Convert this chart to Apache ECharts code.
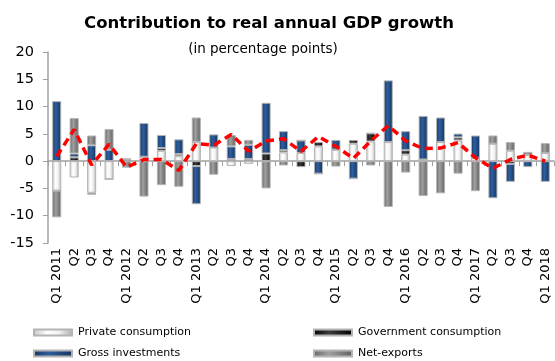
<!DOCTYPE html>
<html>
<head>
<meta charset="utf-8">
<script src="https://cdn.jsdelivr.net/npm/echarts@6/dist/echarts.min.js"></script>
<style>html,body{margin:0;padding:0;background:#fff}#c{width:555px;height:361px}</style>
</head>
<body>
<div id="c"></div>
<script>
var categories = ['Q1 2011','Q2','Q3','Q4','Q1 2012','Q2','Q3','Q4','Q1 2013','Q2','Q3','Q4','Q1 2014','Q2','Q3','Q4','Q1 2015','Q2','Q3','Q4','Q1 2016','Q2','Q3','Q4','Q1 2017','Q2','Q3','Q4','Q1 2018'];
var privateConsumption = [-5.4,-3.0,-5.8,-3.3,0,0.8,1.9,0.9,3.5,2.5,-0.9,-0.5,0,1.6,1.5,2.7,2.1,3.2,3.6,3.5,1.2,0.3,3.5,3.8,0.6,3.2,1.9,1.1,1.5];
var governmentConsumption = [0,0.7,-0.35,0,0.4,0,0.5,0.4,-0.9,0,0.4,0.4,1.4,0.4,-1.1,0.8,0,0.7,1.5,0,0.8,0,0,0.55,0,0,-0.5,0,0];
var grossInvestments = [11.0,0.7,2.9,2.1,0,6.2,2.4,2.7,-7.0,2.4,2.3,2.6,9.3,3.5,2.3,-2.3,1.8,-3.2,0,11.3,3.5,8.0,4.5,0.7,4.1,-6.8,-3.3,-1.1,-3.8];
var netExports = [-4.9,6.5,1.8,3.8,-1.2,-6.5,-4.4,-4.7,4.5,-2.5,2.1,0.9,-5.0,-0.8,0,0,-1.0,0,-0.8,-8.4,-2.1,-6.4,-5.9,-2.3,-5.5,1.5,1.6,0.6,1.8];
var gdpGrowth = [0.9,5.8,-0.7,3.1,-1.1,0.3,0.3,-1.7,3.2,2.9,4.9,1.8,3.7,4.1,1.8,4.5,2.7,0.5,3.7,6.5,3.7,2.3,2.4,3.4,0.6,-1.3,0.3,1.1,0];
var yTicks = {min:-15, max:20, interval:5};

var FONT = 'DejaVu Sans';
function grad(stops){
  return new echarts.graphic.LinearGradient(0,0,1,0, stops.map(function(s){return {offset:s[0], color:s[1]};}));
}
var colPrivate = grad([[0,'#c4c4c4'],[0.35,'#ffffff'],[0.65,'#f2f2f2'],[1,'#acacac']]);
var colGov = grad([[0,'#000000'],[0.4,'#3c3c3c'],[1,'#000000']]);
var colInv = grad([[0,'#163763'],[0.4,'#2e5e9e'],[1,'#15335c']]);
var colNet = grad([[0,'#666666'],[0.4,'#a0a0a0'],[1,'#5e5e5e']]);

function barSeries(name, data, color){
  return {
    name: name, type: 'bar', stack: 'total', data: data, barWidth: '52%',
    xAxisIndex: 0, yAxisIndex: 0,
    itemStyle: {color: color, borderColor: '#b4b4b4', borderWidth: 1},
    emphasis: {disabled: true}
  };
}
function legendAt(name, left, top){
  return {
    data: [{name: name, icon: 'rect'}], left: left, top: top, itemWidth: 38, itemHeight: 6, itemGap: 0,
    padding: 0, selectedMode: false,
    textStyle: {fontFamily: FONT, fontSize: 11, color: '#000', padding: [0,0,0,1]}
  };
}

var chart = echarts.init(document.getElementById('c'), null, {renderer: 'canvas'});
chart.setOption({
  animation: false,
  backgroundColor: '#ffffff',
  title: [
    {text: 'Contribution to real annual GDP growth', left: 264, top: 10, textAlign: 'center',
     textStyle: {fontFamily: FONT, fontWeight: 'bold', fontSize: 16.5, color: '#000'}},
    {text: '(in percentage points)', left: 258, top: 37, textAlign: 'center',
     textStyle: {fontFamily: FONT, fontWeight: 'normal', fontSize: 13.5, color: '#000'}}
  ],
  legend: [
    legendAt('Private consumption', 33, 327),
    legendAt('Government consumption', 313, 327),
    legendAt('Gross investments', 33, 348),
    legendAt('Net-exports', 313, 348)
  ],
  grid: {left: 48, right: 1, top: 52, bottom: 118, containLabel: false},
  xAxis: [
    {type: 'category', data: categories, position: 'bottom', boundaryGap: true,
     axisLine: {show: false, onZero: false}, axisTick: {show: false},
     axisLabel: {rotate: 90, interval: 0, margin: 5, fontFamily: FONT, fontSize: 13, color: '#000'}},
    {type: 'category', data: categories, position: 'top', boundaryGap: true,
     axisLine: {show: true, onZero: true, lineStyle: {color: '#a0a0a0', width: 1.5}},
     axisTick: {show: true, inside: true, length: 5, interval: 0, lineStyle: {color: '#a0a0a0'}},
     axisLabel: {show: false}}
  ],
  yAxis: {
    type: 'value', min: yTicks.min, max: yTicks.max, interval: yTicks.interval,
    axisLine: {show: true, lineStyle: {color: '#a0a0a0', width: 1.5}},
    axisTick: {show: true, length: 5, lineStyle: {color: '#a0a0a0'}},
    splitLine: {show: false},
    axisLabel: {margin: 14, fontFamily: FONT, fontSize: 14.5, color: '#000'}
  },
  series: [
    barSeries('Private consumption', privateConsumption, colPrivate),
    barSeries('Government consumption', governmentConsumption, colGov),
    barSeries('Gross investments', grossInvestments, colInv),
    barSeries('Net-exports', netExports, colNet),
    {name: 'GDP growth', type: 'line', data: gdpGrowth, xAxisIndex: 0, yAxisIndex: 0,
     showSymbol: false, symbol: 'none', z: 5,
     lineStyle: {color: '#ff0000', width: 3.5, type: [8,5]}}
  ]
});
</script>
</body>
</html>
